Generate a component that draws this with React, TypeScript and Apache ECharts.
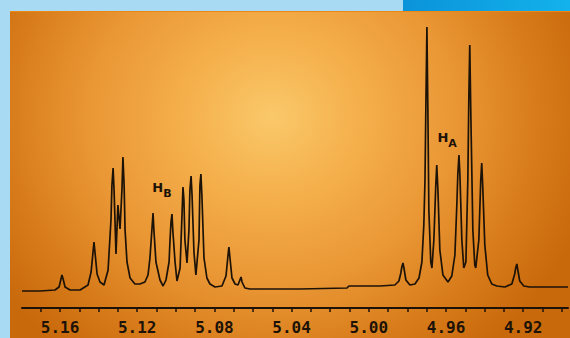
import React, { useEffect, useRef } from "react";
import * as echarts from "echarts";

// Chemical shift (ppm) of each traced point of the 1H NMR spectrum
const shiftPpm: number[] = [
  5.1797, 5.1704, 5.1626, 5.1605, 5.1595, 5.159, 5.1584, 5.1574, 5.1548, 5.1496,
  5.1455, 5.1439, 5.1429, 5.1424, 5.1419, 5.1408, 5.1393, 5.1372, 5.1351, 5.1336,
  5.1331, 5.1325, 5.132, 5.131, 5.13, 5.1289, 5.1279, 5.1274, 5.1268, 5.1263,
  5.1253, 5.1237, 5.1212, 5.1186, 5.116, 5.1144, 5.1134, 5.1124, 5.1118, 5.1113,
  5.1103, 5.1082, 5.1066, 5.1051, 5.1035, 5.103, 5.1025, 5.102, 5.1015, 5.1004,
  5.0994, 5.0978, 5.0968, 5.0963, 5.0958, 5.0953, 5.0942, 5.0932, 5.0927, 5.0921,
  5.0916, 5.0906, 5.0896, 5.088, 5.0875, 5.087, 5.0865, 5.0854, 5.0839, 5.0823,
  5.0797, 5.0761, 5.074, 5.073, 5.0725, 5.072, 5.0709, 5.0693, 5.0678, 5.0668,
  5.0662, 5.0657, 5.0642, 5.0616, 5.0357, 5.0113, 5.0103, 4.9942, 4.9865, 4.9844,
  4.9834, 4.9829, 4.9823, 4.9818, 4.9808, 4.9787, 4.9761, 4.974, 4.9725, 4.9715,
  4.9709, 4.9704, 4.9699, 4.9694, 4.9689, 4.9679, 4.9673, 4.9663, 4.9653, 4.9648,
  4.9642, 4.9632, 4.9616, 4.959, 4.957, 4.9554, 4.9544, 4.9539, 4.9533, 4.9528,
  4.9518, 4.9508, 4.9497, 4.9487, 4.9482, 4.9477, 4.9471, 4.9461, 4.9451, 4.9446,
  4.943, 4.942, 4.9415, 4.941, 4.9399, 4.9384, 4.9363, 4.9337, 4.9295, 4.9259,
  4.9244, 4.9239, 4.9233, 4.9228, 4.9218, 4.9197, 4.9166, 4.8968,
];
// Signal intensity (arbitrary units) at each point
const intensity: number[] = [
  -2, -2, -1, 2, 10, 14, 10, 2, -1, -1,
  4, 17, 37, 47, 37, 15, 7, 4, 19, 69,
  104, 121, 99, 35, 84, 60, 100, 132, 104, 59,
  27, 11, 5, 5, 7, 14, 31, 59, 76, 57,
  27, 9, 3, 9, 27, 49, 67, 75, 57, 27,
  8, 21, 74, 102, 89, 49, 26, 59, 99, 113,
  94, 37, 14, 49, 104, 115, 94, 31, 11, 5,
  2, 3, 13, 33, 42, 32, 11, 5, 4, 9,
  12, 7, 1, 0, 0, 1, 3, 3, 4, 8,
  16, 22, 26, 21, 9, 4, 5, 11, 27, 64,
  109, 189, 262, 179, 79, 27, 21, 49, 104, 124,
  99, 39, 14, 7, 13, 34, 84, 114, 134, 114,
  49, 21, 27, 109, 189, 244, 169, 59, 24, 21,
  49, 109, 126, 104, 44, 14, 5, 3, 2, 5,
  15, 21, 25, 19, 8, 3, 2, 2,
];

const labelValues: number[] = [4.92, 4.96, 5.0, 5.04, 5.08, 5.12, 5.16];
const tickValues: number[] = [
  4.9, 4.91, 4.92, 4.93, 4.94, 4.95, 4.96, 4.97, 4.98, 4.99, 5.0, 5.01, 5.02, 5.03,
  5.04, 5.05, 5.06, 5.07, 5.08, 5.09, 5.1, 5.11, 5.12, 5.13, 5.14, 5.15, 5.16, 5.17,
];

// Multiplet annotations: [subscript, ppm, intensity]
const annotations: [string, number, number][] = [
  ["B", 5.1072, 99],
  ["A", 4.9594, 149],
];

const INK = "#1c1207";

export default function App() {
  const ref = useRef<HTMLDivElement>(null);

  useEffect(() => {
    if (!ref.current) return;
    const chart = echarts.init(ref.current, null, { renderer: "svg" });
    const data = shiftPpm.map((p, i) => [p, intensity[i]]);
    chart.setOption({
      animation: false,
      backgroundColor: "transparent",
      grid: { left: 22, right: 2, top: 10, bottom: 30 },
      xAxis: {
        type: "value",
        inverse: true,
        min: 4.8968,
        max: 5.1797,
        axisLine: { show: true, onZero: false, lineStyle: { color: INK, width: 2 } },
        axisTick: {
          show: true,
          customValues: tickValues,
          length: 4,
          lineStyle: { color: INK, width: 1.5 },
        },
        axisLabel: {
          customValues: labelValues,
          formatter: (v: number) => v.toFixed(2),
          color: INK,
          fontFamily: "DejaVu Sans Mono",
          fontWeight: "bold",
          fontSize: 16,
          margin: 11,
        },
        splitLine: { show: false },
      },
      yAxis: {
        type: "value",
        min: -19,
        max: 279,
        show: false,
        splitLine: { show: false },
      },
      series: [
        {
          type: "line",
          data,
          showSymbol: false,
          symbol: "none",
          smooth: false,
          lineStyle: { color: INK, width: 1.7 },
          markPoint: {
            symbol: "circle",
            symbolSize: 0,
            data: annotations.map(([s, p, v]) => ({
              coord: [p, v],
              label: {
                show: true,
                position: "inside",
                formatter: `{h|H}{s|${s}}`,
                rich: {
                  h: {
                    fontFamily: "DejaVu Sans",
                    fontWeight: "bold",
                    fontSize: 13,
                    color: INK,
                    verticalAlign: "top",
                    lineHeight: 18,
                  },
                  s: {
                    fontFamily: "DejaVu Sans",
                    fontWeight: "bold",
                    fontSize: 11,
                    color: INK,
                    verticalAlign: "bottom",
                    lineHeight: 18,
                  },
                },
              },
            })),
          },
        },
      ],
    });
    return () => chart.dispose();
  }, []);

  return (
    <div
      style={{
        position: "fixed",
        left: 0,
        top: 0,
        width: 570,
        height: 338,
        background: "#a8dbf3",
        overflow: "hidden",
      }}
    >
      <div
        style={{
          position: "absolute",
          left: 403,
          top: 0,
          width: 167,
          height: 11,
          background: "linear-gradient(to right, #0b93d9, #13b2ec)",
        }}
      />
      <div
        style={{
          position: "absolute",
          left: 10,
          top: 11,
          right: 0,
          bottom: 0,
          borderTop: "1px solid #ee8614",
          background:
            "radial-gradient(ellipse 330px 300px at 262px 105px, #fac86a 0%, #f5b14d 25%, #ea9735 55%, #d87c1b 80%, #c8690b 100%)",
        }}
      />
      <div ref={ref} style={{ position: "absolute", left: 0, top: 0, width: 570, height: 338 }} />
    </div>
  );
}
